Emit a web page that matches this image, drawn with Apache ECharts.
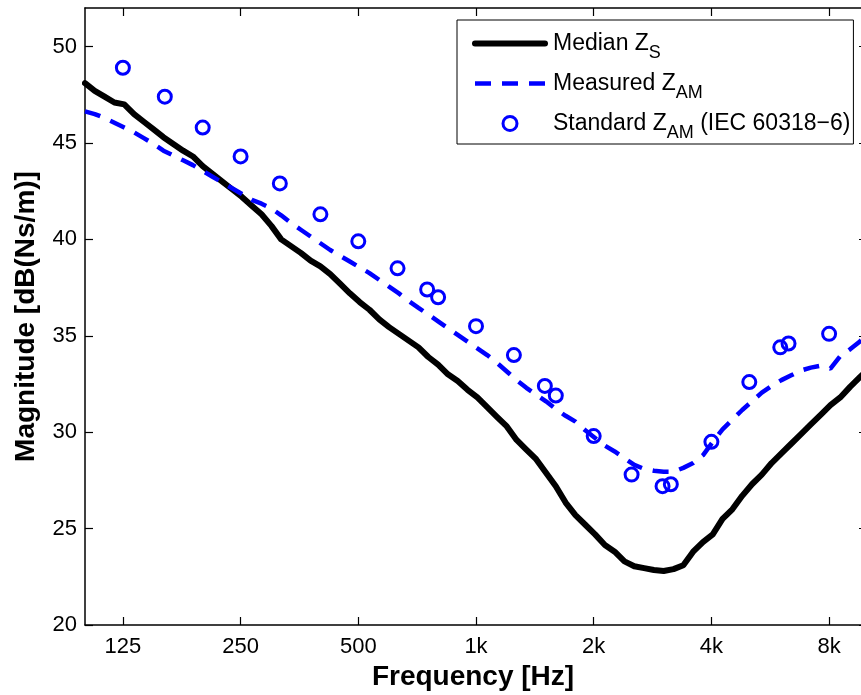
<!DOCTYPE html>
<html><head><meta charset="utf-8">
<script src="https://cdn.jsdelivr.net/npm/echarts@6/dist/echarts.min.js"></script>
<style>html,body{margin:0;padding:0;background:#fff}#c{width:861px;height:695px}</style>
</head><body><div id="c"></div>
<script>
// Frequency grid (Hz) shared by both curves
const freq = [100, 105.9, 112.2, 118.9, 126.0, 133.5, 141.4, 149.8, 158.7, 168.2,
  178.2, 188.8, 200, 211.9, 224.5, 237.8, 252.0, 267.0, 282.8, 299.7,
  317.5, 336.4, 356.4, 377.6, 400, 423.8, 449.0, 475.7, 504.0, 534.0,
  565.7, 599.3, 635.0, 672.7, 712.7, 755.1, 800, 847.6, 898.0, 951.4,
  1008, 1068, 1131, 1199, 1270, 1345, 1425, 1510, 1600, 1695,
  1796, 1903, 2016, 2136, 2263, 2397, 2540, 2691, 2851, 3020,
  3200, 3390, 3592, 3805, 4032, 4271, 4525, 4795, 5080, 5382,
  5702, 6041, 6400, 6781, 7184, 7611, 8063, 8543, 9051, 9589, 10000];
const medianZS = [48.1, 47.7, 47.4, 47.1, 47.0, 46.5, 46.1, 45.7, 45.3, 44.95,
  44.6, 44.3, 43.8, 43.4, 43.0, 42.6, 42.2, 41.75, 41.3, 40.7,
  40.0, 39.65, 39.3, 38.9, 38.6, 38.2, 37.7, 37.2, 36.75, 36.35,
  35.85, 35.45, 35.1, 34.75, 34.4, 33.9, 33.5, 33.0, 32.65, 32.2,
  31.8, 31.3, 30.8, 30.3, 29.6, 29.1, 28.6, 27.9, 27.2, 26.35,
  25.7, 25.2, 24.7, 24.15, 23.8, 23.3, 23.05, 22.95, 22.85, 22.8,
  22.9, 23.1, 23.8, 24.3, 24.7, 25.5, 26.0, 26.7, 27.3, 27.8,
  28.4, 28.9, 29.4, 29.9, 30.4, 30.9, 31.4, 31.8, 32.35, 32.85, 33.2];
const measuredZAM = [46.64, 46.5, 46.3, 46.05, 45.8, 45.55, 45.25, 44.95, 44.6, 44.35,
  44.1, 43.85, 43.55, 43.25, 42.95, 42.65, 42.35, 42.05, 41.85, 41.6,
  41.25, 40.85, 40.5, 40.15, 39.8, 39.45, 39.15, 38.85, 38.55, 38.25,
  37.9, 37.55, 37.2, 36.8, 36.45, 36.1, 35.75, 35.4, 35.05, 34.7,
  34.35, 34.0, 33.6, 33.15, 32.7, 32.3, 31.95, 31.6, 31.2, 30.85,
  30.55, 30.1, 29.7, 29.3, 29.0, 28.65, 28.3, 28.1, 28.0, 27.95,
  27.95, 28.15, 28.4, 28.8, 29.5, 30.15, 30.65, 31.15, 31.6, 32.05,
  32.4, 32.7, 32.95, 33.2, 33.35, 33.45, 33.3, 33.95, 34.3, 34.7, 35.1];
// Standard Z_AM (IEC 60318-6) points
const stdFreq = [125, 160, 200, 250, 315, 400, 500, 630, 750, 800, 1000, 1250, 1500, 1600,
  2000, 2500, 3000, 3150, 4000, 5000, 6000, 6300, 8000];
const stdZAM = [48.9, 47.4, 45.8, 44.3, 42.9, 41.3, 39.9, 38.5, 37.4, 37.0, 35.5, 34.0, 32.4, 31.9,
  29.8, 27.8, 27.2, 27.3, 29.5, 32.6, 34.4, 34.6, 35.1];
// Tick labels
const xTickValues = [125, 250, 500, 1000, 2000, 4000, 8000];
const xTickLabels = ['125', '250', '500', '1k', '2k', '4k', '8k'];
const yTickValues = [20, 25, 30, 35, 40, 45, 50];
const seriesNames = ['Median Z_S', 'Measured Z_AM', 'Standard Z_AM (IEC 60318\u22126)'];
const legendRichText = ['{f|Median Z}{s|S}', '{f|Measured Z}{s|AM}', '{f|Standard Z}{s|AM}{n| (IEC 60318\u22126)}'];

const FONT = '"Liberation Sans", Arial, Helvetica, sans-serif';
const BLUE = '#0000ff';
const NONE = 'rgba(0,0,0,0)';
const chart = echarts.init(document.getElementById('c'), null, {renderer: 'canvas'});

function xFmt(v) {
  for (let i = 0; i < xTickValues.length; i++) {
    if (Math.abs(xTickValues[i] - v) < 1e-6 * xTickValues[i]) return xTickLabels[i];
  }
  return '';
}

const axisLineStyle = {color: '#000', width: 1.5};
const tickStyle = {color: '#000', width: 1.2};
const option = {
  animation: false,
  backgroundColor: '#fff',
  grid: {left: 85, top: 8, width: 782, height: 617, containLabel: false, outerBoundsMode: 'none'},
  xAxis: [{
    type: 'log', logBase: 10, min: 100, max: 10000,
    name: 'Frequency [Hz]', nameLocation: 'middle', nameGap: 38,
    nameTextStyle: {fontSize: 28, fontWeight: 'bold', fontFamily: FONT, color: '#000', padding: [0, 6, 0, 0]},
    axisLine: {show: true, lineStyle: axisLineStyle},
    axisTick: {show: true, inside: true, length: 8, customValues: xTickValues, lineStyle: tickStyle},
    axisLabel: {show: true, customValues: xTickValues, formatter: xFmt, margin: 11,
      fontSize: 22, fontFamily: FONT, color: '#000'},
    splitLine: {show: false}, minorTick: {show: false}
  }, {
    type: 'log', logBase: 10, min: 100, max: 10000, position: 'top',
    axisLine: {show: true, lineStyle: axisLineStyle},
    axisTick: {show: true, inside: true, length: 8, customValues: xTickValues, lineStyle: tickStyle},
    axisLabel: {show: false}, splitLine: {show: false}
  }],
  yAxis: [{
    type: 'value', min: 20, max: 52,
    name: 'Magnitude [dB(Ns/m)]', nameLocation: 'middle', nameGap: 45,
    nameTextStyle: {fontSize: 28, fontWeight: 'bold', fontFamily: FONT, color: '#000'},
    axisLine: {show: true, lineStyle: axisLineStyle},
    axisTick: {show: true, inside: true, length: 8, customValues: yTickValues, lineStyle: tickStyle},
    axisLabel: {show: true, customValues: yTickValues, margin: 8, fontSize: 22, fontFamily: FONT, color: '#000'},
    splitLine: {show: false}
  }, {
    type: 'value', min: 20, max: 52, position: 'right',
    axisLine: {show: true, lineStyle: axisLineStyle},
    axisTick: {show: true, inside: true, length: 8, customValues: yTickValues, lineStyle: tickStyle},
    axisLabel: {show: false}, splitLine: {show: false}
  }],
  legend: {
    orient: 'vertical', left: 457, top: 20,
    padding: [5, 3, 2, 15], itemGap: 3, itemWidth: 70, itemHeight: 14,
    backgroundColor: '#fff', borderColor: '#000', borderWidth: 1, borderRadius: 0,
    selectedMode: false,
    data: [
      {name: seriesNames[0], lineStyle: {width: 6, color: '#000'},
        itemStyle: {color: NONE, borderColor: NONE, borderWidth: 0}},
      {name: seriesNames[1], lineStyle: {width: 4.5, color: BLUE, type: [16, 11]},
        itemStyle: {color: NONE, borderColor: NONE, borderWidth: 0}},
      {name: seriesNames[2], itemStyle: {color: NONE, borderColor: BLUE, borderWidth: 3}}
    ],
    formatter: name => legendRichText[seriesNames.indexOf(name)],
    textStyle: {
      fontSize: 23, fontFamily: FONT, color: '#000',
      rich: {
        f: {fontSize: 23, fontFamily: FONT, color: '#000', lineHeight: 30, padding: [0, 0, 0, 3]},
        n: {fontSize: 23, fontFamily: FONT, color: '#000', lineHeight: 30},
        s: {fontSize: 18, fontFamily: FONT, color: '#000', lineHeight: 18, padding: [19, 0, 0, 0]}
      }
    }
  },
  series: [{
    name: seriesNames[0], type: 'line', xAxisIndex: 0, yAxisIndex: 0,
    data: freq.map((f, i) => [f, medianZS[i]]),
    symbol: 'none', showSymbol: false, clip: true,
    lineStyle: {color: '#000', width: 6, cap: 'round', join: 'round'},
    itemStyle: {color: '#000'}
  }, {
    name: seriesNames[1], type: 'line', xAxisIndex: 0, yAxisIndex: 0,
    data: freq.map((f, i) => [f, measuredZAM[i]]),
    symbol: 'none', showSymbol: false, clip: true,
    lineStyle: {color: BLUE, width: 4.5, type: [16, 11]},
    itemStyle: {color: BLUE}
  }, {
    name: seriesNames[2], type: 'scatter', xAxisIndex: 0, yAxisIndex: 0,
    data: stdFreq.map((f, i) => [f, stdZAM[i]]),
    symbol: 'circle', symbolSize: 13,
    itemStyle: {color: NONE, borderColor: BLUE, borderWidth: 3, opacity: 1}
  }]
};
chart.setOption(option);
</script>
</body></html>
